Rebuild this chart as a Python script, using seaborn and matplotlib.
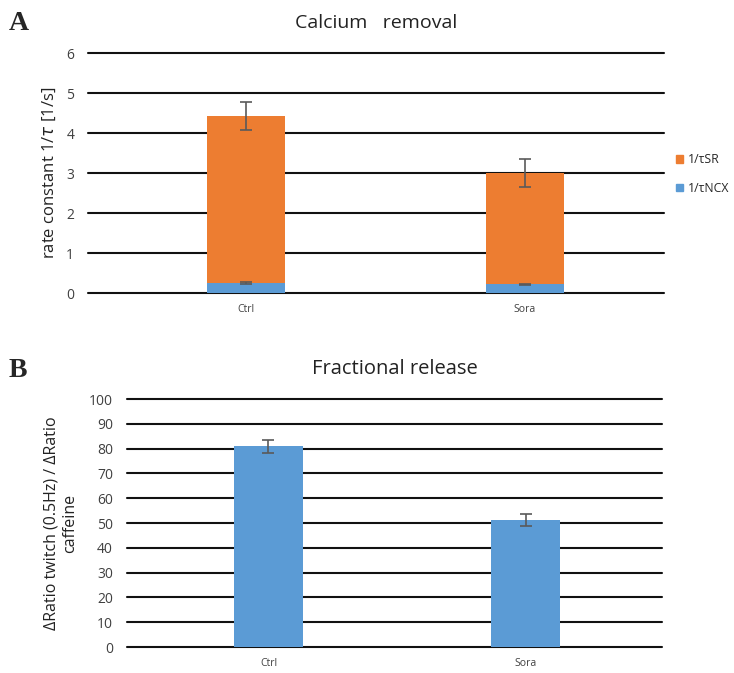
import numpy as np
import pandas as pd
import matplotlib
matplotlib.use("Agg")
import matplotlib.pyplot as plt
import seaborn as sns
from matplotlib.patches import Patch

# ==========================================
# DATA
# ==========================================
groups = ["Ctrl", "Sora"]

# Panel A: calcium removal rate constants (1/s)
rate_total = [4.42, 3.00]      # 1/tauSR stacked on top of 1/tauNCX
rate_total_err = [0.35, 0.34]
rate_ncx = [0.25, 0.22]
rate_ncx_err = [0.02, 0.01]

# Panel B: fractional release (%)
frac_release = [80.9, 51.4]
frac_release_err = [2.7, 2.4]

ORANGE = "#ED7D31"
BLUE = "#5B9BD5"
ERR_COLOR = "#5a5a5a"
TICK_COLOR = "#404040"

sns.set_style("white")
plt.rcParams["font.family"] = ["Open Sans", "DejaVu Sans"]

df_a = pd.DataFrame({"group": groups, "total": rate_total, "ncx": rate_ncx})
df_b = pd.DataFrame({"group": groups, "frac": frac_release})

fig = plt.figure(figsize=(7.34, 6.73), dpi=100)
ax_a = fig.add_axes([0.120, 0.5646, 0.7846, 0.3566])
ax_b = fig.add_axes([0.173, 0.0386, 0.729, 0.3685])


def style_axis(ax, ymax, step):
    ax.set_ylim(0, ymax)
    ax.set_yticks(np.arange(0, ymax + step / 2, step))
    for y in np.arange(0, ymax + step / 2, step):
        ax.axhline(y, color="#111111", lw=1.5, zorder=0, clip_on=False)
    for s in ax.spines.values():
        s.set_visible(False)
    ax.tick_params(axis="y", length=0, pad=10, labelsize=10, labelcolor=TICK_COLOR)
    ax.tick_params(axis="x", length=0, pad=8, labelsize=7.5, labelcolor=TICK_COLOR)
    ax.set_xlabel("")


# --- PANEL A: stacked bars ---
sns.barplot(data=df_a, x="group", y="total", color=ORANGE, width=0.28,
            saturation=1, linewidth=0, ax=ax_a, zorder=2)
sns.barplot(data=df_a, x="group", y="ncx", color=BLUE, width=0.28,
            saturation=1, linewidth=0, ax=ax_a, zorder=3)
xpos = np.arange(len(groups))
ax_a.errorbar(xpos, rate_total, yerr=rate_total_err, fmt="none", ecolor=ERR_COLOR,
              elinewidth=1.2, capsize=4, capthick=1.2, zorder=4)
ax_a.errorbar(xpos, rate_ncx, yerr=rate_ncx_err, fmt="none", ecolor=ERR_COLOR,
              elinewidth=1.2, capsize=4, capthick=1.2, zorder=4)
style_axis(ax_a, 6, 1)
ax_a.set_xlim(-0.566, 1.498)
ax_a.set_ylabel(r"rate constant 1/$\tau$ [1/s]", fontsize=12, color="#222222", labelpad=6)
ax_a.set_title("Calcium   removal", fontsize=14, color="#222222", pad=18)

handles = [Patch(color=ORANGE, label="1/τSR"), Patch(color=BLUE, label="1/τNCX")]
fig.legend(handles=handles, loc="upper left", bbox_to_anchor=(0.914, 0.78),
           frameon=False, fontsize=8.8, handlelength=0.6, handleheight=0.6,
           handletextpad=0.35, labelspacing=1.3, borderaxespad=0)

# --- PANEL B: single bars ---
sns.barplot(data=df_b, x="group", y="frac", color=BLUE, width=0.27,
            saturation=1, linewidth=0, ax=ax_b, zorder=2)
ax_b.errorbar(xpos, frac_release, yerr=frac_release_err, fmt="none", ecolor=ERR_COLOR,
              elinewidth=1.2, capsize=4, capthick=1.2, zorder=4)
style_axis(ax_b, 100, 10)
ax_b.set_xlim(-0.55, 1.53)
ax_b.set_ylabel("ΔRatio twitch (0.5Hz) / ΔRatio\ncaffeine", fontsize=11.5,
                color="#222222", labelpad=8)
ax_b.set_title("Fractional release", fontsize=14.5, color="#222222", pad=18)

# panel letters
fig.text(0.012, 0.955, "A", fontsize=20, fontweight="bold", family="Liberation Serif")
fig.text(0.012, 0.44, "B", fontsize=20, fontweight="bold", family="Liberation Serif")

fig.savefig("out.png", dpi=100)
